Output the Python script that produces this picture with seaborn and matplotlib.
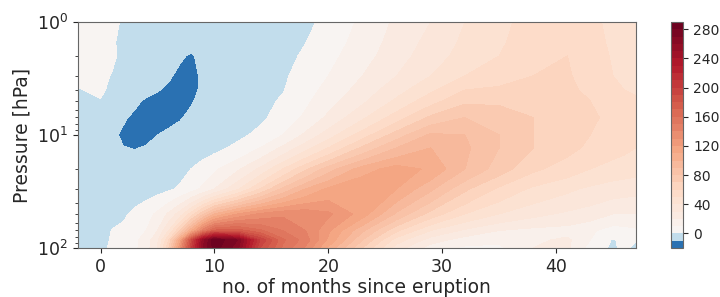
import numpy as np
import matplotlib
matplotlib.use("Agg")
import matplotlib.pyplot as plt
import matplotlib.colors as mcolors
import seaborn as sns

# months since eruption (grid columns)
months = [-2, 0, 1, 2, 3, 4, 5, 6, 7, 8, 9, 10, 12, 14, 16, 18, 20, 23, 26, 29, 32, 35, 38, 41, 43, 45, 46, 47]
# pressure levels in hPa (grid rows)
pressure = [1, 1.5, 2, 3, 4, 5, 7, 10, 13, 20, 30, 50, 70, 85, 100]

# anomaly values, one list per pressure level
p1 = [4, 3, 2, -1, -4, -5, -5, -5, -5, -6, -6, -5, -5, -5, -4, -2.5, 3, 12, 22, 30, 40, 46, 56, 58, 53, 47, 45, 44]
p1_5 = [4, 3, 1, -2, -4, -5, -5, -6, -7, -7, -6, -5, -5, -5, -4, -0.2, 5, 14, 24, 33, 42, 48, 57, 59, 54, 48, 46, 45]
p2 = [4, 3, 1.5, -2, -5, -5, -6, -7, -9, -11, -7, -6, -5, -5, -3, 1.5, 7, 16, 26, 35, 44, 50, 58, 60, 55, 49, 47, 46]
p3 = [2, 2, -0.5, -3, -5, -6, -7, -9, -12, -13, -8, -6, -5, -4, -1.5, 4, 10, 20, 30, 40, 50, 55, 60, 61, 56, 50, 48, 47]
p4 = [-0.5, 1.5, -2, -4, -6, -8, -9.5, -11.5, -13, -12.5, -8, -6, -5, -3, -0.5, 6, 13, 24, 36, 48, 60, 62, 62, 62, 58, 52, 50, 49]
p5 = [-3, -0.5, -3, -6, -8.5, -11, -12.5, -13, -13, -10.5, -8, -6, -4.5, -2.5, 1, 8, 16, 28, 42, 56, 68, 68, 64, 63, 60, 54, 52, 51]
p7 = [-4, -4, -6, -9, -11.5, -13, -13, -12, -10.5, -8.5, -7, -5.5, -3.5, -1.5, 3, 12, 22, 38, 55, 72, 80, 76, 70, 66, 62, 57, 55, 54]
p10 = [-5, -6, -8, -11.5, -12.5, -12, -10, -8.5, -7.5, -6.5, -5.5, -4.5, -2, 2, 10, 22, 35, 55, 75, 92, 90, 80, 70, 64, 60, 55, 53, 52]
p13 = [-5, -6, -8, -9.7, -10.3, -9.5, -8, -7, -6, -5, -4, -2.5, 2, 10, 22, 36, 50, 72, 90, 100, 92, 80, 70, 63, 58, 54, 52, 50]
p20 = [-5, -5, -5.5, -6, -6.5, -6.5, -6, -5, -3, 0.2, 4, 8, 18, 32, 50, 68, 85, 105, 115, 108, 90, 75, 62, 55, 50, 46, 45, 44]
p30 = [-5, -5, -5, -5, -4.5, -4, -3, -1.5, 1.5, 6, 12, 20, 38, 60, 82, 100, 112, 120, 110, 92, 72, 58, 48, 42, 38, 35, 34, 33]
p50 = [-5, -5, -3, -1.5, 2, 6, 12, 22, 35, 55, 78, 100, 120, 132, 138, 138, 132, 115, 88, 66, 50, 40, 33, 28, 25, 20, 20, 20]
p70 = [-5, -4.5, 0.3, 2, 5, 10, 20, 40, 70, 108, 145, 172, 175, 162, 150, 140, 122, 92, 62, 40, 28, 20, 17, 16, 12, 5, 6, 8]
p85 = [-5, -3.5, 1, 4, 8, 14, 28, 60, 115, 190, 255, 288, 270, 200, 162, 145, 118, 80, 45, 25, 15, 12, 18, 22, 10, -1, 3, 0.5]
p100 = [-5, -3, 2, 5, 8, 15, 30, 70, 130, 200, 260, 285, 265, 190, 158, 138, 108, 70, 35, 15, 8, 8, 20, 22, 6, -2, 3, -3]

levels = np.arange(-20, 300, 10)
cbar_ticks = [0, 40, 80, 120, 160, 200, 240, 280]

field = np.array([p1, p1_5, p2, p3, p4, p5, p7, p10, p13, p20, p30, p50, p70, p85, p100])

sns.set_style("ticks", {"axes.edgecolor": "0.4"})
plt.rcParams["font.family"] = ["DejaVu Sans"]

fig = plt.figure(figsize=(7.2, 2.97), dpi=100)
ax = fig.add_axes([0.108, 0.165, 0.775, 0.761])
cax = fig.add_axes([0.932, 0.165, 0.017, 0.761])

cmap = sns.color_palette("RdBu_r", as_cmap=True)
norm = mcolors.TwoSlopeNorm(vmin=-20, vcenter=0, vmax=290)
cf = ax.contourf(months, pressure, field, levels=levels, cmap=cmap, norm=norm)

ax.set_yscale("log")
ax.set_ylim(100, 1)
ax.set_xlim(-2, 47)
ax.set_xticks([0, 10, 20, 30, 40])
ax.tick_params(labelsize=12.5)
ax.set_xlabel("no. of months since eruption", fontsize=13.5, labelpad=2)
ax.set_ylabel("Pressure [hPa]", fontsize=13.5)

cb = fig.colorbar(cf, cax=cax, ticks=cbar_ticks)
cb.ax.tick_params(labelsize=10)
cb.outline.set_edgecolor("0.4")

fig.savefig("out.png", dpi=100)
